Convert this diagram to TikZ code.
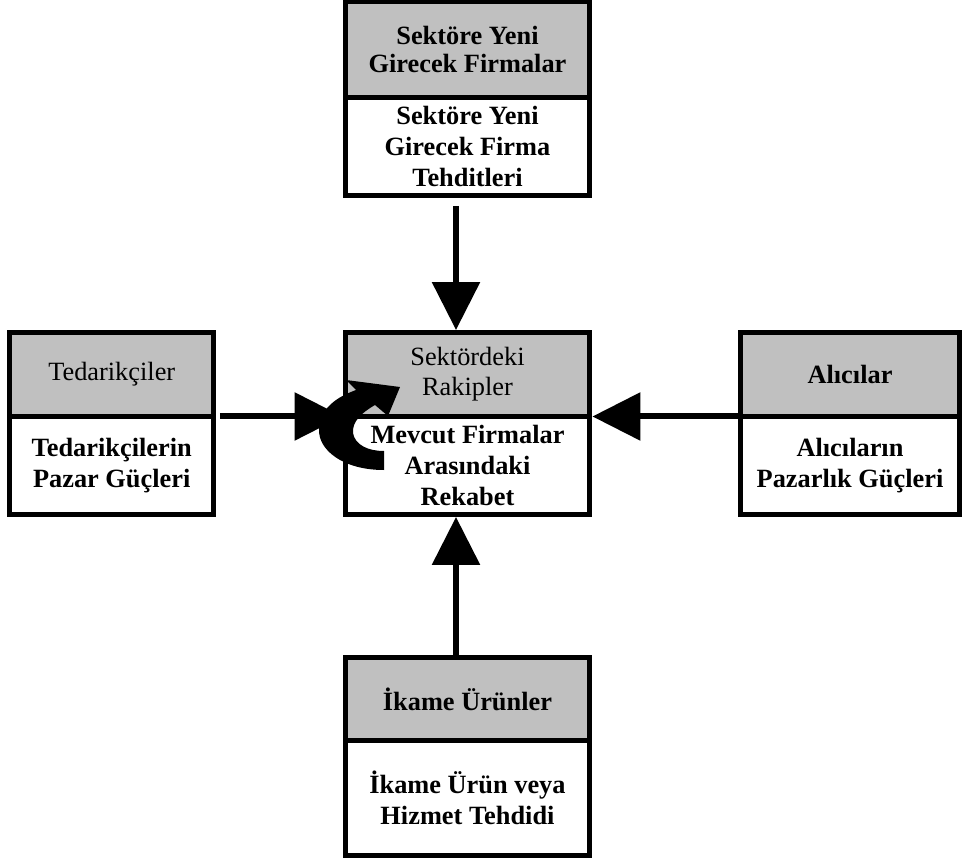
\documentclass[tikz,border=0pt]{standalone}
\usepackage{fontspec}
\setmainfont{Liberation Serif}
\usetikzlibrary{positioning,arrows.meta}
\definecolor{hdrgray}{RGB}{192,192,192}
\tikzset{
  hdr/.style={draw, fill=hdrgray, line width=0.1cm, outer sep=0pt, anchor=north west,
    align=center, font=\fontsize{15}{17}\selectfont, inner sep=2pt},
  bdy/.style={draw, fill=white, line width=0.1cm, outer sep=0pt,
    align=center, font=\fontsize{15}{17.5}\selectfont\bfseries, inner sep=2pt},
  force/.style={line width=0.12cm, -{Triangle[length=0.96cm,width=0.94cm]}}
}

\begin{document}
\begin{tikzpicture}[x=0.02cm, y=-0.02cm]
  \useasboundingbox (0,0) rectangle (963,868);
  % boxes: gray header on top, white body below
  \node[hdr, minimum width=4.9cm, minimum height=1.91cm, font=\fontsize{15}{16}\selectfont\bfseries] (newH) at (345,2) {Sektöre Yeni\\Girecek Firmalar};
  \node[bdy, minimum width=4.9cm, minimum height=1.97cm, below=0pt of newH] (newB) {Sektöre Yeni\\Girecek Firma\\Tehditleri};
  \node[hdr, minimum width=4.9cm, minimum height=1.68cm] (rivH) at (345,332.5) {Sektördeki\\Rakipler};
  \node[bdy, minimum width=4.9cm, minimum height=1.96cm, below=0pt of rivH] (rivB) {Mevcut Firmalar\\Arasındaki\\Rekabet};
  \node[hdr, minimum width=4.09cm, minimum height=1.68cm] (supH) at (9.5,332.5) {Tedarikçiler};
  \node[bdy, minimum width=4.09cm, minimum height=1.96cm, below=0pt of supH] (supB) {Tedarikçilerin\\Pazar Güçleri};
  \node[hdr, minimum width=4.4cm, minimum height=1.68cm, font=\fontsize{15}{17}\selectfont\bfseries] (buyH) at (740,332.5) {Alıcılar};
  \node[bdy, minimum width=4.4cm, minimum height=1.96cm, below=0pt of buyH] (buyB) {Alıcıların\\Pazarlık Güçleri};
  \node[hdr, minimum width=4.9cm, minimum height=1.66cm, font=\fontsize{15}{17}\selectfont\bfseries] (subH) at (345,657.5) {İkame Ürünler};
  \node[bdy, minimum width=4.9cm, minimum height=2.3cm, below=0pt of subH] (subB) {İkame Ürün veya\\Hizmet Tehdidi};
  % the four forces
  \coordinate (vx) at (456,0);
  \draw[force, shorten <=0.2cm, shorten >=0.05cm] (newB.south -| vx) -- (rivH.north -| vx);
  \draw[force, shorten <=0.12cm, shorten >=0.05cm] (supH.south east) -- (rivH.south west);
  \draw[force, shorten <=0.05cm, shorten >=0.05cm] (buyH.south west) -- (rivH.south east);
  \draw[force, shorten <=0.05cm, shorten >=0.05cm] (subH.north -| vx) -- (rivB.south -| vx);
  % rivalry arrow
  \fill (384,470) .. controls (343,470) and (318,450) .. (319,429)
    .. controls (320,408) and (337,397) .. (356,390) -- (346,380) -- (400,387) -- (388,416)
    -- (375,405) .. controls (361,413) and (352,422) .. (353,433)
    .. controls (355,445) and (368,451) .. (384,451) -- cycle;
\end{tikzpicture}
\end{document}
